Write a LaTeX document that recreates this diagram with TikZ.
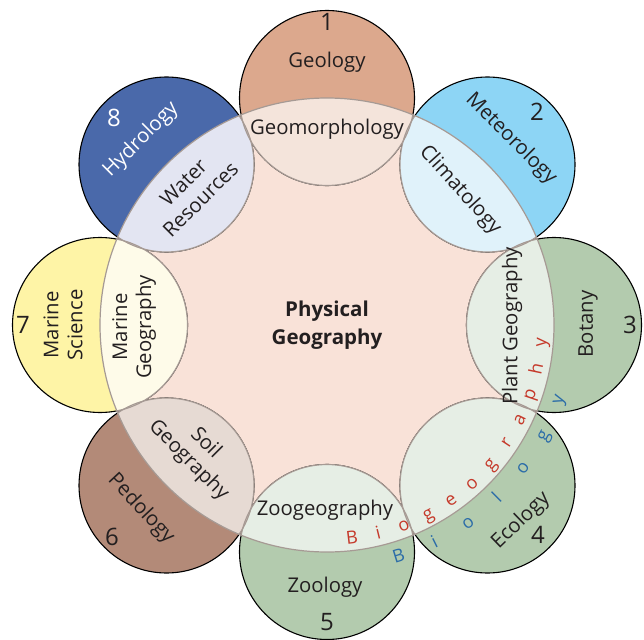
\documentclass[tikz,border=0pt]{standalone}
\usepackage{fontspec}
\setmainfont{Open Sans}
\usetikzlibrary{calc}
\definecolor{bigfill}{HTML}{F9E2D8}
\definecolor{geoC}{HTML}{DCA88D}
\definecolor{geoL}{HTML}{F4E4DB}
\definecolor{metC}{HTML}{8DD5F5}
\definecolor{metL}{HTML}{E0F2FA}
\definecolor{grnC}{HTML}{B3CBAE}
\definecolor{grnL}{HTML}{E6EEE5}
\definecolor{pedC}{HTML}{B38A78}
\definecolor{pedL}{HTML}{E6DAD3}
\definecolor{marC}{HTML}{FEF4A6}
\definecolor{marL}{HTML}{FEFBE9}
\definecolor{hydC}{HTML}{4A69AA}
\definecolor{hydL}{HTML}{E3E5F2}
\definecolor{lineG}{HTML}{A69A94}
\definecolor{txt}{HTML}{231F20}
\definecolor{bioR}{HTML}{C5392A}
\definecolor{bioB}{HTML}{2B6CA8}
\begin{document}
\begin{tikzpicture}[x=1pt,y=-1pt,
  lab/.style={font=\fontsize{20.3}{24}\selectfont, text=txt, align=center, inner sep=0pt},
  num/.style={font=\fontsize{24}{28}\selectfont, text=txt, inner sep=0pt},
  ttl/.style={font=\fontsize{20.5}{28}\selectfont\bfseries, text=txt, align=center, inner sep=0pt},
  bio/.style={font=\fontsize{18}{20}\selectfont, inner sep=0pt, anchor=base},
  outerline/.style={draw=black, line width=1.1pt},
  innerline/.style={draw=lineG, line width=1.2pt}]
\useasboundingbox (0,0) rectangle (644,639);
\coordinate (C) at (327,325);
\coordinate (O1) at (327,98);
\coordinate (O2) at (487.5,164.5);
\coordinate (O3) at (554,325);
\coordinate (O4) at (487.5,485.5);
\coordinate (O5) at (327,552);
\coordinate (O6) at (166.5,485.5);
\coordinate (O7) at (100,325);
\coordinate (O8) at (166.5,164.5);

\fill[bigfill] (C) circle[radius=227pt];
\foreach \n/\c in {1/geoC,2/metC,3/grnC,4/grnC,5/grnC,6/pedC,7/marC,8/hydC}
  \fill[\c] (O\n) circle[radius=87.5pt];
\foreach \n in {1,...,8}
  \draw[outerline] (O\n) circle[radius=87.5pt];
\begin{scope}
  \clip (C) circle[radius=227pt];
  \foreach \n/\c in {1/geoL,2/metL,3/grnL,4/grnL,5/grnL,6/pedL,7/marL,8/hydL}
    \fill[\c] (O\n) circle[radius=87.5pt];
  \foreach \n in {1,...,8}
    \draw[innerline] (O\n) circle[radius=87.5pt];
\end{scope}
\draw[innerline] (C) circle[radius=227pt];

\node[ttl] (phys) at (327,325) {Physical\\Geography};

\node[lab] (geology) at (327,62) {Geology};
\node[num] (n1) at (327,22) {1};
\node[lab] (geomorph) at (327,129) {Geomorphology};

\node[lab,rotate=-45] (meteo) at (511,139) {Meteorology};
\node[num] (n2) at (537,112) {2};
\node[lab,rotate=-48] (clim) at (460,190) {Climatology};

\node[lab,rotate=90] (botany) at (588,324) {Botany};
\node[num] (n3) at (630,325) {3};
\node[lab,rotate=90] (plant) at (512,326) {Plant Geography};

\node[lab,rotate=44] (ecology) at (521,521) {Ecology};
\node[num] (n4) at (538,535) {4};

\node[lab] (zoogeo) at (325,510) {Zoogeography};
\node[lab] (zoology) at (325,587) {Zoology};
\node[num] (n5) at (327,622) {5};

\node[lab,rotate=-45] (soil) at (197,452) {Soil\\Geography};
\node[lab,rotate=-47] (pedology) at (141,509) {Pedology};
\node[num] (n6) at (112,537) {6};

\node[lab,rotate=90] (marsci) at (63,325) {Marine\\Science};
\node[num] (n7) at (23,325) {7};
\node[lab,rotate=90] (margeo) at (134,327) {Marine\\Geography};

\node[lab,text=white,rotate=45] (hydro) at (141,140) {Hydrology};
\node[num,text=white] (n8) at (114,118) {8};
\node[lab,rotate=45] (water) at (192,191) {Water\\Resources};

\foreach \l [count=\i from 0] in {B,i,o,g,e,o,g,r,a,p,h,y} {
  \pgfmathsetmacro\a{-83.3+7.14*\i}
  \node[bio,text=bioR,rotate=\a+90] (bg\i) at ($(C)+({220*cos(\a)},{-220*sin(\a)})$) {\l};
}
\foreach \l [count=\i from 0] in {B,i,o,l,o,g,y} {
  \pgfmathsetmacro\a{-72.8+9.15*\i}
  \node[bio,text=bioB,rotate=\a+90] (bl\i) at ($(C)+({248*cos(\a)},{-248*sin(\a)})$) {\l};
}
\end{tikzpicture}
\end{document}
